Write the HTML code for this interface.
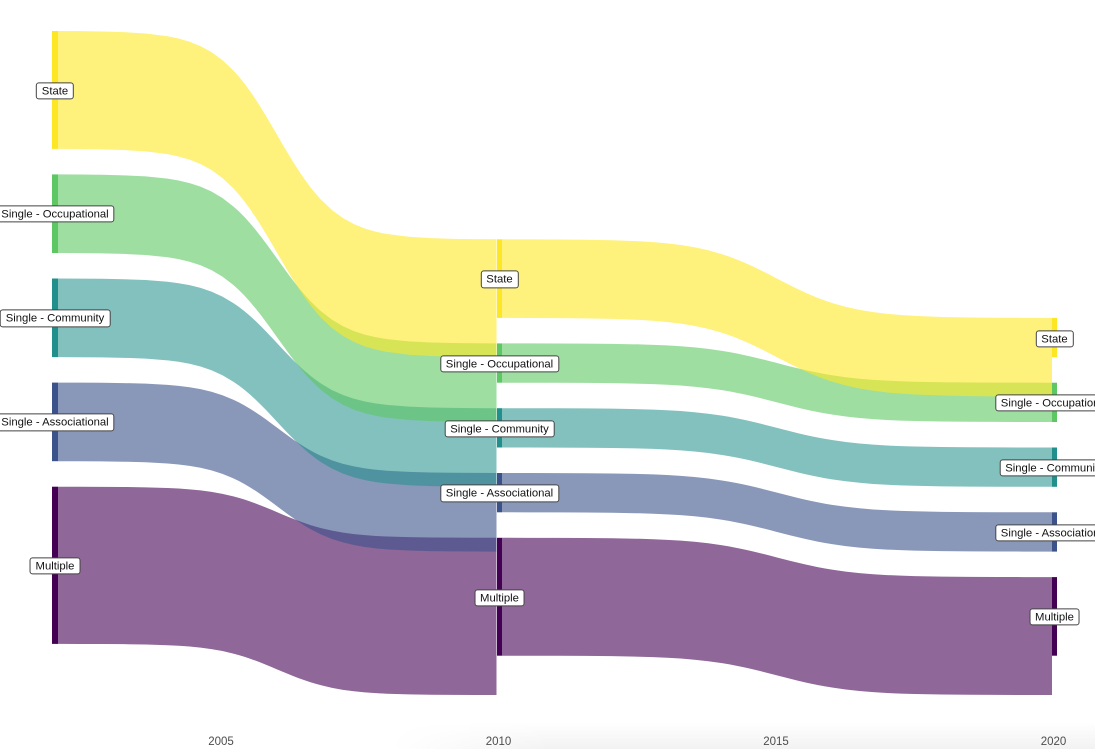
<!DOCTYPE html>
<html>
<head>
<meta charset="utf-8">
<style>
  html,body{margin:0;padding:0;background:#fff;}
  body{width:1095px;height:749px;position:relative;overflow:hidden;font-family:"Liberation Sans",sans-serif;}
  svg{position:absolute;left:0;top:0;}
  .lab{position:absolute;transform:translate(-50%,-50%);background:#fff;border:1px solid #444;border-radius:3px;
       font-size:11.3px;padding:1px 5px 0 5px;height:14.3px;line-height:15px;white-space:nowrap;color:#111;}
  .ax{position:absolute;top:736px;transform:translateX(-50%);font-size:11.5px;color:#4d4d4d;line-height:13px;}
  .shade{position:absolute;left:390px;right:0;top:722px;bottom:0;
         background:linear-gradient(to bottom,rgba(0,0,0,0),rgba(0,0,0,0.05));
         -webkit-mask-image:linear-gradient(to right,transparent,#000 160px);
         mask-image:linear-gradient(to right,transparent,#000 160px);}
</style>
</head>
<body>
<div class="shade"></div>
<svg width="1095" height="749" viewBox="0 0 1095 749" xmlns="http://www.w3.org/2000/svg">
<defs>
  <path id="below" d="M0,0 L0.05,0.00076 L0.1,0.0023 L0.15,0.0055 L0.2,0.012 L0.25,0.0253 L0.275,0.0362 L0.3,0.0515 L0.325,0.0727 L0.35,0.1015 L0.375,0.1398 L0.4,0.1896 L0.4125,0.2191 L0.425,0.2517 L0.4375,0.2875 L0.45,0.326 L0.4625,0.3671 L0.475,0.4102 L0.4875,0.4547 L0.5,0.5 L0.5125,0.5453 L0.525,0.5898 L0.5375,0.6329 L0.55,0.674 L0.5625,0.7125 L0.575,0.7483 L0.5875,0.7809 L0.6,0.8104 L0.625,0.8602 L0.65,0.8985 L0.675,0.9273 L0.7,0.9485 L0.725,0.9638 L0.75,0.9747 L0.8,0.988 L0.85,0.9945 L0.9,0.9977 L0.95,0.9992 L1,1 L1,10 L0,10 Z"/>
  <path id="above" d="M0,0 L0.05,0.00076 L0.1,0.0023 L0.15,0.0055 L0.2,0.012 L0.25,0.0253 L0.275,0.0362 L0.3,0.0515 L0.325,0.0727 L0.35,0.1015 L0.375,0.1398 L0.4,0.1896 L0.4125,0.2191 L0.425,0.2517 L0.4375,0.2875 L0.45,0.326 L0.4625,0.3671 L0.475,0.4102 L0.4875,0.4547 L0.5,0.5 L0.5125,0.5453 L0.525,0.5898 L0.5375,0.6329 L0.55,0.674 L0.5625,0.7125 L0.575,0.7483 L0.5875,0.7809 L0.6,0.8104 L0.625,0.8602 L0.65,0.8985 L0.675,0.9273 L0.7,0.9485 L0.725,0.9638 L0.75,0.9747 L0.8,0.988 L0.85,0.9945 L0.9,0.9977 L0.95,0.9992 L1,1 L1,-10 L0,-10 Z"/>

  <clipPath id="a1"><use href="#below" transform="matrix(438.5 0 0 51.1 58 486.7)"/></clipPath>
  <clipPath id="a2"><use href="#below" transform="matrix(438.5 0 0 90.4 58 382.6)"/></clipPath>
  <clipPath id="a3"><use href="#below" transform="matrix(438.5 0 0 129.7 58 278.5)"/></clipPath>
  <clipPath id="a4"><use href="#below" transform="matrix(438.5 0 0 169.0 58 174.4)"/></clipPath>
  <clipPath id="a5"><use href="#below" transform="matrix(438.5 0 0 208.3 58 31)"/></clipPath>
  <clipPath id="b1"><use href="#below" transform="matrix(550 0 0 39.3 502 537.8)"/></clipPath>
  <clipPath id="b2"><use href="#below" transform="matrix(550 0 0 39.3 502 473.0)"/></clipPath>
  <clipPath id="b3"><use href="#below" transform="matrix(550 0 0 39.3 502 408.2)"/></clipPath>
  <clipPath id="b4"><use href="#below" transform="matrix(550 0 0 39.3 502 343.4)"/></clipPath>
  <clipPath id="b5"><use href="#below" transform="matrix(550 0 0 78.6 502 239.3)"/></clipPath>
</defs>

<g clip-path="url(#a1)"><use href="#above" fill="#440154" fill-opacity="0.6" transform="matrix(438.5 0 0 51.1 58 643.9)"/></g>
<g clip-path="url(#a2)"><use href="#above" fill="#3B528B" fill-opacity="0.6" transform="matrix(438.5 0 0 90.4 58 461.2)"/></g>
<g clip-path="url(#a3)"><use href="#above" fill="#21908C" fill-opacity="0.56" transform="matrix(438.5 0 0 129.7 58 357.1)"/></g>
<g clip-path="url(#a4)"><use href="#above" fill="#5DC863" fill-opacity="0.6" transform="matrix(438.5 0 0 169.0 58 253.0)"/></g>
<g clip-path="url(#a5)"><use href="#above" fill="#FDE725" fill-opacity="0.6" transform="matrix(438.5 0 0 208.3 58 148.9)"/></g>

<g clip-path="url(#b1)"><use href="#above" fill="#440154" fill-opacity="0.6" transform="matrix(550 0 0 39.3 502 655.7)"/></g>
<g clip-path="url(#b2)"><use href="#above" fill="#3B528B" fill-opacity="0.6" transform="matrix(550 0 0 39.3 502 512.3)"/></g>
<g clip-path="url(#b3)"><use href="#above" fill="#21908C" fill-opacity="0.56" transform="matrix(550 0 0 39.3 502 447.5)"/></g>
<g clip-path="url(#b4)"><use href="#above" fill="#5DC863" fill-opacity="0.6" transform="matrix(550 0 0 39.3 502 382.7)"/></g>
<g clip-path="url(#b5)"><use href="#above" fill="#FDE725" fill-opacity="0.6" transform="matrix(550 0 0 78.6 502 317.9)"/></g>

<rect x="52" y="31" width="6" height="117.9" fill="#FDE725"/>
<rect x="52" y="174.4" width="6" height="78.6" fill="#5DC863"/>
<rect x="52" y="278.5" width="6" height="78.6" fill="#21908C"/>
<rect x="52" y="382.6" width="6" height="78.6" fill="#3B528B"/>
<rect x="52" y="486.7" width="6" height="157.2" fill="#440154"/>
<rect x="497" y="239.3" width="5" height="78.6" fill="#FDE725"/>
<rect x="497" y="343.4" width="5" height="39.3" fill="#5DC863"/>
<rect x="497" y="408.2" width="5" height="39.3" fill="#21908C"/>
<rect x="497" y="473.0" width="5" height="39.3" fill="#3B528B"/>
<rect x="497" y="537.8" width="5" height="117.9" fill="#440154"/>
<rect x="1052" y="317.9" width="5" height="39.3" fill="#FDE725"/>
<rect x="1052" y="382.7" width="5" height="39.3" fill="#5DC863"/>
<rect x="1052" y="447.5" width="5" height="39.3" fill="#21908C"/>
<rect x="1052" y="512.3" width="5" height="39.3" fill="#3B528B"/>
<rect x="1052" y="577.1" width="5" height="78.6" fill="#440154"/>
</svg>

<div class="lab" style="left:55px;top:90.5px;">State</div>
<div class="lab" style="left:55px;top:214.2px;">Single - Occupational</div>
<div class="lab" style="left:55px;top:318.3px;">Single - Community</div>
<div class="lab" style="left:55px;top:422.4px;">Single - Associational</div>
<div class="lab" style="left:55px;top:565.8px;">Multiple</div>
<div class="lab" style="left:499.5px;top:279.3px;">State</div>
<div class="lab" style="left:499.5px;top:363.8px;">Single - Occupational</div>
<div class="lab" style="left:499.5px;top:428.6px;">Single - Community</div>
<div class="lab" style="left:499.5px;top:493.4px;">Single - Associational</div>
<div class="lab" style="left:499.5px;top:597.5px;">Multiple</div>
<div class="lab" style="left:1054.5px;top:338.5px;">State</div>
<div class="lab" style="left:1054.5px;top:403.1px;">Single - Occupational</div>
<div class="lab" style="left:1054.5px;top:467.9px;">Single - Community</div>
<div class="lab" style="left:1054.5px;top:532.7px;">Single - Associational</div>
<div class="lab" style="left:1054.5px;top:617.1px;">Multiple</div>

<div class="ax" style="left:221px;">2005</div>
<div class="ax" style="left:498.5px;">2010</div>
<div class="ax" style="left:776px;">2015</div>
<div class="ax" style="left:1053.5px;">2020</div>
</body>
</html>
